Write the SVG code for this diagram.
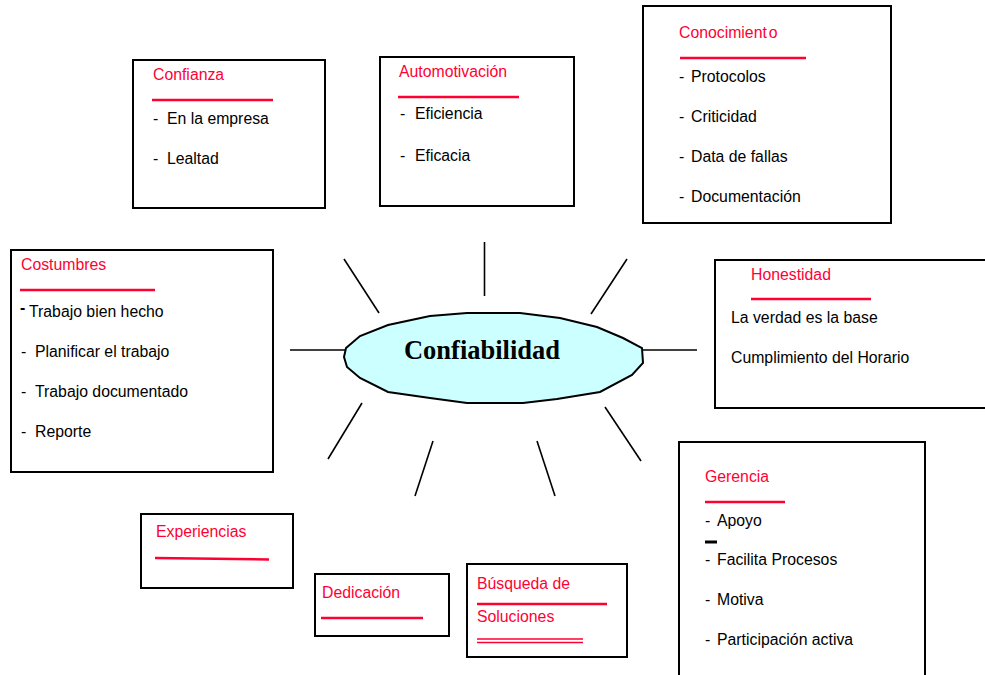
<svg xmlns="http://www.w3.org/2000/svg" width="985" height="675" viewBox="0 0 985 675">
<style>
.box{fill:#fff;stroke:#000;stroke-width:2}
.t{font-family:"Liberation Sans",Arial,sans-serif;font-size:15.8px;fill:#000}
.r{font-family:"Liberation Sans",Arial,sans-serif;font-size:15.8px;fill:#FF0033}
.ul{stroke:#FF0033;stroke-width:2.5;fill:none}
.c{stroke:#000;stroke-width:1.6;fill:none}
</style>
<rect width="985" height="675" fill="#fff"/>
<g id="connectors">
<line class="c" x1="344" y1="259" x2="379" y2="313"/>
<line class="c" x1="484.5" y1="242" x2="484.5" y2="296"/>
<line class="c" x1="627" y1="259" x2="591" y2="314"/>
<line class="c" x1="290" y1="350" x2="346" y2="350"/>
<line class="c" x1="643" y1="350" x2="697" y2="350"/>
<line class="c" x1="362" y1="403" x2="328" y2="459"/>
<line class="c" x1="433" y1="441" x2="415" y2="496"/>
<line class="c" x1="537" y1="441" x2="555" y2="496"/>
<line class="c" x1="605" y1="407" x2="641" y2="461"/>
</g>
<g id="center">
<polygon points="346,348 360,336 388,325 430,316 467,313 520,313 560,318 597,327 623,338 642,348 643,363 632,375 600,392 557,399 523,403 467,403 430,398 388,392 360,378 347,367 344,357" fill="#CCFFFF" stroke="#000" stroke-width="2"/>
<text x="482" y="359" text-anchor="middle" font-family="'Liberation Serif','Times New Roman',serif" font-weight="bold" font-size="26.5px">Confiabilidad</text>
</g>
<g id="confianza">
<rect class="box" x="133" y="60" width="192" height="148"/>
<text class="r" x="153" y="80">Confianza</text>
<line class="ul" x1="152" y1="100" x2="273" y2="100"/>
<text class="t" x="153" y="124">-</text><text class="t" x="167" y="124">En la empresa</text>
<text class="t" x="153" y="164">-</text><text class="t" x="167" y="164">Lealtad</text>
</g>
<g id="automotivacion">
<rect class="box" x="380" y="57" width="194" height="149"/>
<text class="r" x="399" y="77">Automotivación</text>
<line class="ul" x1="398" y1="97" x2="519" y2="97"/>
<text class="t" x="400" y="119">-</text><text class="t" x="415" y="119">Eficiencia</text>
<text class="t" x="400" y="161">-</text><text class="t" x="415" y="161">Eficacia</text>
</g>
<g id="conocimiento">
<rect class="box" x="643" y="6" width="248" height="217"/>
<text class="r" x="679" y="38">Conocimient<tspan dx="2">o</tspan></text>
<line class="ul" x1="680" y1="58" x2="806" y2="58"/>
<text class="t" x="679" y="82">-</text><text class="t" x="691" y="82">Protocolos</text>
<text class="t" x="679" y="122">-</text><text class="t" x="691" y="122">Criticidad</text>
<text class="t" x="679" y="162">-</text><text class="t" x="691" y="162">Data de fallas</text>
<text class="t" x="679" y="202">-</text><text class="t" x="691" y="202">Documentación</text>
</g>
<g id="costumbres">
<rect class="box" x="11" y="250" width="262" height="222"/>
<text class="r" x="21" y="270">Costumbres</text>
<line class="ul" x1="20" y1="290" x2="155" y2="290"/>
<text class="t" x="20" y="313" font-weight="bold">-</text><text class="t" x="29" y="317">Trabajo bien hecho</text>
<text class="t" x="21" y="357">-</text><text class="t" x="35" y="357">Planificar el trabajo</text>
<text class="t" x="21" y="397">-</text><text class="t" x="35" y="397">Trabajo documentado</text>
<text class="t" x="21" y="437">-</text><text class="t" x="35" y="437">Reporte</text>
</g>
<g id="honestidad">
<rect class="box" x="715" y="260" width="275" height="148"/>
<text class="r" x="751" y="280">Honestidad</text>
<line class="ul" x1="751" y1="299" x2="871" y2="299"/>
<text class="t" x="731" y="323">La verdad es la base</text>
<text class="t" x="731" y="363">Cumplimiento del Horario</text>
</g>
<g id="gerencia">
<rect class="box" x="679" y="442" width="246" height="245"/>
<text class="r" x="705" y="482">Gerencia</text>
<line class="ul" x1="705" y1="502" x2="785" y2="502"/>
<text class="t" x="705" y="526">-</text><text class="t" x="717" y="526">Apoyo</text>
<line x1="705" y1="542" x2="717" y2="542" stroke="#000" stroke-width="3"/>
<text class="t" x="705" y="565">-</text><text class="t" x="717" y="565">Facilita Procesos</text>
<text class="t" x="705" y="605">-</text><text class="t" x="717" y="605">Motiva</text>
<text class="t" x="705" y="645">-</text><text class="t" x="717" y="645">Participación activa</text>
</g>
<g id="experiencias">
<rect class="box" x="141" y="514" width="152" height="74"/>
<text class="r" x="156" y="537">Experiencias</text>
<line class="ul" x1="155" y1="558" x2="269" y2="559.5"/>
</g>
<g id="dedicacion">
<rect class="box" x="315" y="574" width="134" height="62"/>
<text class="r" x="322" y="598">Dedicación</text>
<line class="ul" x1="321" y1="618" x2="423" y2="618"/>
</g>
<g id="busqueda">
<rect class="box" x="467" y="564" width="160" height="93"/>
<text class="r" x="477" y="589">Búsqueda de</text>
<line class="ul" x1="477" y1="604" x2="607" y2="604"/>
<text class="r" x="477" y="622">Soluciones</text>
<line x1="477" y1="639" x2="583" y2="639" stroke="#FF0033" stroke-width="1.6"/>
<line x1="477" y1="642.5" x2="583" y2="642.5" stroke="#FF0033" stroke-width="1.6"/>
</g>
</svg>
